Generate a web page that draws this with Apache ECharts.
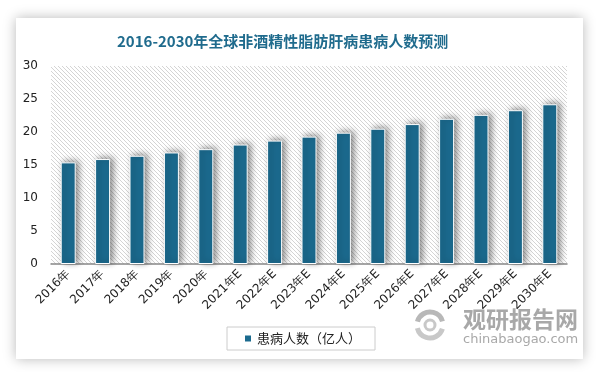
<!DOCTYPE html>
<html><head><meta charset="utf-8">
<script src="https://cdn.jsdelivr.net/npm/echarts@6/dist/echarts.min.js"></script>
<style>
html,body{margin:0;padding:0;background:#fff;}
#card{position:absolute;left:16px;top:18px;width:567px;height:341px;background:#fff;box-shadow:0 0 12px rgba(0,0,0,0.28);}
#chart{position:absolute;left:0;top:0;width:596px;height:372px;}
</style></head>
<body>
<div id="card"></div>
<div id="chart"></div>
<script>
const categories = ['2016年','2017年','2018年','2019年','2020年','2021年E','2022年E','2023年E','2024年E','2025年E','2026年E','2027年E','2028年E','2029年E','2030年E'];
const patients = [15.4, 15.9, 16.4, 16.9, 17.4, 18.1, 18.7, 19.3, 19.9, 20.5, 21.2, 22.0, 22.6, 23.3, 24.2];
const yTicks = [0, 5, 10, 15, 20, 25, 30];

const pc = document.createElement('canvas');
pc.width = 4; pc.height = 4;
const ctx = pc.getContext('2d');
ctx.fillStyle = '#fff'; ctx.fillRect(0,0,4,4);
ctx.fillStyle = '#d4d4d4';
for (let i = 0; i < 4; i++) ctx.fillRect(i, i, 1, 1);

const chart = echarts.init(document.getElementById('chart'), null, {renderer:'canvas'});
chart.setOption({
  backgroundColor: 'transparent',
  animation: false,
  title: {
    text: '2016-2030年全球非酒精性脂肪肝病患病人数预测',
    left: 112, top: 29,
    textStyle: {fontSize: 15, fontWeight: 'bold', color: '#1f6b8d', fontFamily: 'Noto Sans CJK SC'}
  },
  grid: {
    left: 51, right: 29, top: 66, bottom: 108,
    show: true, borderWidth: 0,
    backgroundColor: {image: pc, repeat: 'repeat'}
  },
  legend: {
    left: 227, top: 327,
    padding: [5, 14, 5, 16],
    borderColor: '#cccccc', borderWidth: 1,
    itemWidth: 8, itemHeight: 8, itemGap: 5,
    icon: 'rect',
    textStyle: {fontSize: 13, color: '#222', fontFamily: 'Noto Sans CJK SC'},
    data: ['患病人数（亿人）']
  },
  xAxis: {
    type: 'category', data: categories,
    axisLine: {lineStyle: {color: '#888', width: 1.5}},
    axisTick: {show: false},
    axisLabel: {rotate: 45, fontSize: 12, color: '#222', margin: 8, interval: 0, fontFamily: 'DejaVu Sans'}
  },
  yAxis: {
    type: 'value', min: yTicks[0], max: yTicks[yTicks.length-1], interval: 5,
    axisLine: {show: false}, axisTick: {show: false},
    splitLine: {show: false},
    axisLabel: {fontSize: 12, color: '#222', margin: 13, fontFamily: 'DejaVu Sans'}
  },
  series: [{
    name: '患病人数（亿人）', type: 'bar', data: patients,
    barWidth: 15,
    itemStyle: {
      color: '#1b6a8e', borderColor: '#fff', borderWidth: 1,
      shadowColor: 'rgba(0,0,0,0.45)', shadowBlur: 6, shadowOffsetX: 3, shadowOffsetY: -1
    }
  }],
  graphic: [
    {type: 'arc', shape: {cx: 430, cy: 325, r: 13, startAngle: 0.3, endAngle: 2.9}, style: {stroke: '#c8c8c8', lineWidth: 5, fill: null}, z: 1},
    {type: 'arc', shape: {cx: 430, cy: 325, r: 13, startAngle: 3.4, endAngle: 6.0}, style: {stroke: '#b8b8b8', lineWidth: 5, fill: null}, z: 1},
    {type: 'arc', shape: {cx: 430, cy: 325, r: 5, startAngle: 0, endAngle: 6.28}, style: {stroke: '#c8c8c8', lineWidth: 3, fill: null}, z: 1},
    {type: 'text', left: 463, top: 308, style: {text: '观研报告网', font: 'bold 23px "Noto Sans CJK SC"', fill: '#a8a8a8'}, z: 1},
    {type: 'text', left: 463, top: 333, style: {text: 'chinabaogao.com', font: '13px "DejaVu Sans"', fill: '#a8a8a8'}, z: 1}
  ]
});
</script>
</body></html>
